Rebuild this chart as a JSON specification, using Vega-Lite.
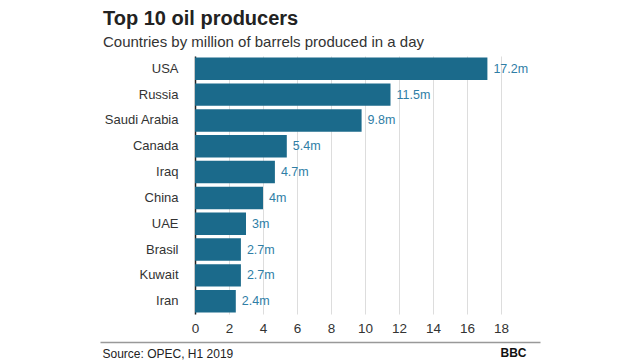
{
  "$schema": "https://vega.github.io/schema/vega-lite/v6.json",
  "autosize": {"type": "none"},
  "width": 306,
  "height": 258,
  "padding": {"left": 195, "top": 56, "right": 139, "bottom": 46},
  "background": "white",
  "config": {
    "font": "Liberation Sans",
    "view": {"stroke": null}
  },
  "title": {
    "text": "Top 10 oil producers",
    "subtitle": "Countries by million of barrels produced in a day",
    "anchor": "start",
    "frame": "group",
    "dx": -92,
    "offset": 6,
    "fontSize": 20,
    "fontWeight": "bold",
    "color": "#222222",
    "subtitleFontSize": 15,
    "subtitleColor": "#333333",
    "subtitlePadding": 6
  },
  "data": {
    "values": [
      {"country": "USA", "value": 17.2, "label": "17.2m"},
      {"country": "Russia", "value": 11.5, "label": "11.5m"},
      {"country": "Saudi Arabia", "value": 9.8, "label": "9.8m"},
      {"country": "Canada", "value": 5.4, "label": "5.4m"},
      {"country": "Iraq", "value": 4.7, "label": "4.7m"},
      {"country": "China", "value": 4, "label": "4m"},
      {"country": "UAE", "value": 3, "label": "3m"},
      {"country": "Brasil", "value": 2.7, "label": "2.7m"},
      {"country": "Kuwait", "value": 2.7, "label": "2.7m"},
      {"country": "Iran", "value": 2.4, "label": "2.4m"}
    ]
  },
  "resolve": {"scale": {"x": "independent"}, "axis": {"x": "independent"}},
  "layer": [
    {
      "encoding": {
        "y": {
          "field": "country", "type": "nominal", "sort": null,
          "scale": {"paddingInner": 0.13, "paddingOuter": 0.06},
          "axis": {
            "title": null, "ticks": false, "domain": true,
            "domainColor": "#222222", "domainWidth": 1.5,
            "labelFontSize": 13, "labelColor": "#333333", "labelPadding": 17
          }
        },
        "x": {
          "field": "value", "type": "quantitative",
          "scale": {"domain": [0, 18], "nice": false},
          "axis": {
            "values": [0, 2, 4, 6, 8, 10, 12, 14, 16, 18],
            "grid": true, "gridColor": "#dddddd", "gridWidth": 1,
            "domain": false, "ticks": false,
            "labelOverlap": false,
            "labelFontSize": 13.5, "labelColor": "#333333", "labelPadding": 7,
            "labelFlush": false,
            "title": "BBC", "titleFontSize": 12, "titleFontWeight": "bold",
            "titleColor": "#111111", "titleAnchor": "start", "titleAlign": "left",
            "titleBaseline": "middle", "titleX": 305, "titleY": 38
          }
        }
      },
      "layer": [
        {
          "mark": {"type": "bar", "color": "#1b6a8b"}
        },
        {
          "mark": {"type": "text", "align": "left", "baseline": "middle", "dx": 6, "fontSize": 12.5, "color": "#2f7ea6"},
          "encoding": {
            "text": {"field": "label"}
          }
        }
      ]
    },
    {
      "data": {"values": [{"v": 0}]},
      "mark": {"type": "tick", "opacity": 0},
      "encoding": {
        "x": {
          "field": "v", "type": "quantitative",
          "scale": {"domain": [0, 1], "range": [-95, 345]},
          "axis": {
            "orient": "bottom", "offset": 28, "domain": true,
            "domainColor": "#999999", "domainWidth": 1.5,
            "ticks": false, "labels": false, "grid": false,
            "title": "Source: OPEC, H1 2019", "titleFontSize": 12,
            "titleFontWeight": "normal", "titleColor": "#222222",
            "titleAnchor": "start", "titleAlign": "left", "titleBaseline": "middle",
            "titleX": -93, "titleY": 11
          }
        }
      }
    }
  ]
}
